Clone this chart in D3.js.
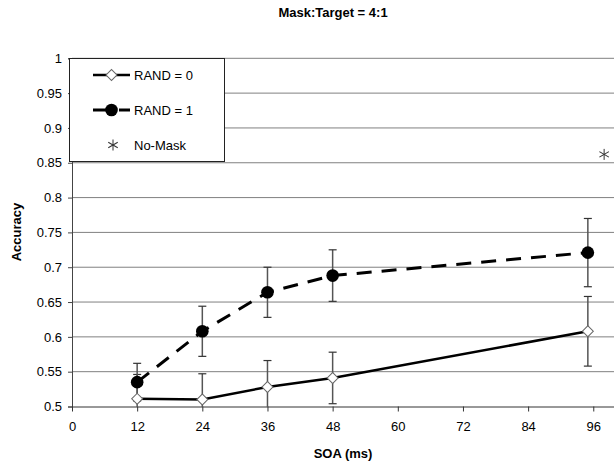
<!DOCTYPE html>
<html>
<head>
<meta charset="utf-8">
<script src="https://cdn.jsdelivr.net/npm/d3@7"></script>
<style>
  body { margin: 0; background: #fff; }
  svg { font-family: "Liberation Sans", Arial, sans-serif; }
</style>
</head>
<body>
<svg width="614" height="467"></svg>
<script>
// SOA values and accuracy
var soa = [12, 24, 36, 48, 95];
var rand0 = [0.511, 0.510, 0.528, 0.541, 0.608];
var rand0Err = [0.035, 0.037, 0.038, 0.037, 0.050];
var rand1 = [0.535, 0.608, 0.664, 0.688, 0.721];
var rand1Err = [0.027, 0.036, 0.036, 0.037, 0.049];
var noMask = [{ x: 98, y: 0.862 }];
var xTicks = [0, 12, 24, 36, 48, 60, 72, 84, 96];
var yTicks = [0.5, 0.55, 0.6, 0.65, 0.7, 0.75, 0.8, 0.85, 0.9, 0.95, 1];

var svg = d3.select("svg");

var x = d3.scaleLinear().domain([0, 100]).range([72, 615]),
    y = d3.scaleLinear().domain([0.5, 1]).range([406.5, 58.3]);

svg.append("defs").append("clipPath").attr("id", "plot")
   .append("rect").attr("x", 72).attr("y", 58).attr("width", 543).attr("height", 349);

svg.append("text")
   .attr("x", 333)
   .attr("y", 17)
   .attr("text-anchor", "middle")
   .attr("font-size", "13px")
   .attr("font-weight", "bold")
   .text("Mask:Target = 4:1");

// gridlines
svg.append("g")
   .selectAll("line")
   .data(yTicks.slice(1))
   .enter().append("line")
   .attr("x1", 72).attr("x2", 614)
   .attr("y1", function(d) { return y(d); })
   .attr("y2", function(d) { return y(d); })
   .attr("stroke", "#808080")
   .attr("stroke-width", 1);

// y axis
var yAxis = svg.append("g")
   .attr("transform", "translate(72,0)")
   .call(d3.axisLeft(y).tickValues(yTicks).tickSize(4).tickPadding(6)
      .tickFormat(function(d) { return d3.format("")(+d.toFixed(2)); }));
yAxis.selectAll("text").attr("font-size", "13px").attr("fill", "#000").attr("font-family", "Liberation Sans, Arial");
yAxis.selectAll("line, path").attr("stroke", "#444");

// x axis
var xAxis = svg.append("g")
   .attr("transform", "translate(0,406.5)")
   .call(d3.axisBottom(x).tickValues(xTicks).tickSize(5).tickPadding(10).tickSizeOuter(0));
xAxis.selectAll("text").attr("font-size", "13px").attr("fill", "#000").attr("font-family", "Liberation Sans, Arial");
xAxis.selectAll("line, path").attr("stroke", "#333");

svg.append("text")
   .attr("transform", "translate(21,232) rotate(-90)")
   .attr("text-anchor", "middle")
   .attr("font-size", "13px")
   .attr("font-weight", "bold")
   .text("Accuracy");

svg.append("text")
   .attr("x", 343)
   .attr("y", 458)
   .attr("text-anchor", "middle")
   .attr("font-size", "13px")
   .attr("font-weight", "bold")
   .text("SOA (ms)");

var g = svg.append("g").attr("clip-path", "url(#plot)");

function errorBars(vals, errs) {
  var bars = g.append("g");
  vals.forEach(function(v, i) {
    var cx = x(soa[i]);
    bars.append("line")
       .attr("x1", cx).attr("x2", cx)
       .attr("y1", y(v + errs[i])).attr("y2", y(v - errs[i]))
       .attr("stroke", "#555").attr("stroke-width", 1.5);
    [v + errs[i], v - errs[i]].forEach(function(e) {
      bars.append("line")
         .attr("x1", cx - 4).attr("x2", cx + 4)
         .attr("y1", y(e)).attr("y2", y(e))
         .attr("stroke", "#333").attr("stroke-width", 1.2);
    });
  });
}
errorBars(rand0, rand0Err);
errorBars(rand1, rand1Err);

var line = d3.line()
   .x(function(d, i) { return x(soa[i]); })
   .y(function(d) { return y(d); });

g.append("path")
   .datum(rand0)
   .attr("d", line)
   .attr("fill", "none")
   .attr("stroke", "#000")
   .attr("stroke-width", 2.5);

g.append("path")
   .datum(rand1)
   .attr("d", line)
   .attr("fill", "none")
   .attr("stroke", "#000")
   .attr("stroke-width", 3)
   .attr("stroke-dasharray", "15,10");

var diamond = d3.symbol().type(d3.symbolSquare).size(60);
var circle = d3.symbol().type(d3.symbolCircle).size(125);

g.selectAll(".r0")
   .data(rand0)
   .enter().append("path")
   .attr("class", "r0")
   .attr("d", diamond)
   .attr("transform", function(d, i) { return "translate(" + x(soa[i]) + "," + y(d) + ") rotate(45)"; })
   .attr("fill", "#fff")
   .attr("stroke", "#666")
   .attr("stroke-width", 1);

g.selectAll(".r1")
   .data(rand1)
   .enter().append("path")
   .attr("class", "r1")
   .attr("d", circle)
   .attr("transform", function(d, i) { return "translate(" + x(soa[i]) + "," + y(d) + ")"; })
   .attr("fill", "#000");

function asterisk(sel) {
  [0, 60, 120].forEach(function(a) {
    sel.append("line")
       .attr("x1", 0).attr("x2", 0).attr("y1", -5.5).attr("y2", 5.5)
       .attr("transform", "rotate(" + a + ")")
       .attr("stroke", "#333").attr("stroke-width", 1);
  });
}

g.selectAll(".nm")
   .data(noMask)
   .enter().append("g")
   .attr("class", "nm")
   .attr("transform", function(d) { return "translate(" + x(d.x) + "," + y(d.y) + ")"; })
   .call(asterisk);

// legend
var leg = svg.append("g");
leg.append("rect")
   .attr("x", 69.5).attr("y", 58.5).attr("width", 155).attr("height", 103)
   .attr("fill", "#fff").attr("stroke", "#222").attr("stroke-width", 1);

var l0 = leg.append("g").attr("transform", "translate(0,75)");
l0.append("line").attr("x1", 93).attr("x2", 130).attr("stroke", "#000").attr("stroke-width", 2.5);
l0.append("path").attr("d", diamond).attr("transform", "translate(111.5,0) rotate(45)")
  .attr("fill", "#fff").attr("stroke", "#666");
l0.append("text").attr("x", 134).attr("y", 5).attr("font-size", "13px").text("RAND = 0");

var l1 = leg.append("g").attr("transform", "translate(0,110)");
l1.append("line").attr("x1", 93).attr("x2", 130).attr("stroke", "#000").attr("stroke-width", 3)
  .attr("stroke-dasharray", "22,4,11");
l1.append("path").attr("d", circle).attr("transform", "translate(111.5,0)").attr("fill", "#000");
l1.append("text").attr("x", 134).attr("y", 5).attr("font-size", "13px").text("RAND = 1");

var l2 = leg.append("g").attr("transform", "translate(0,145)");
l2.append("g").attr("transform", "translate(113,0)").call(asterisk);
l2.append("text").attr("x", 134).attr("y", 5).attr("font-size", "13px").text("No-Mask");
</script>
</body>
</html>
